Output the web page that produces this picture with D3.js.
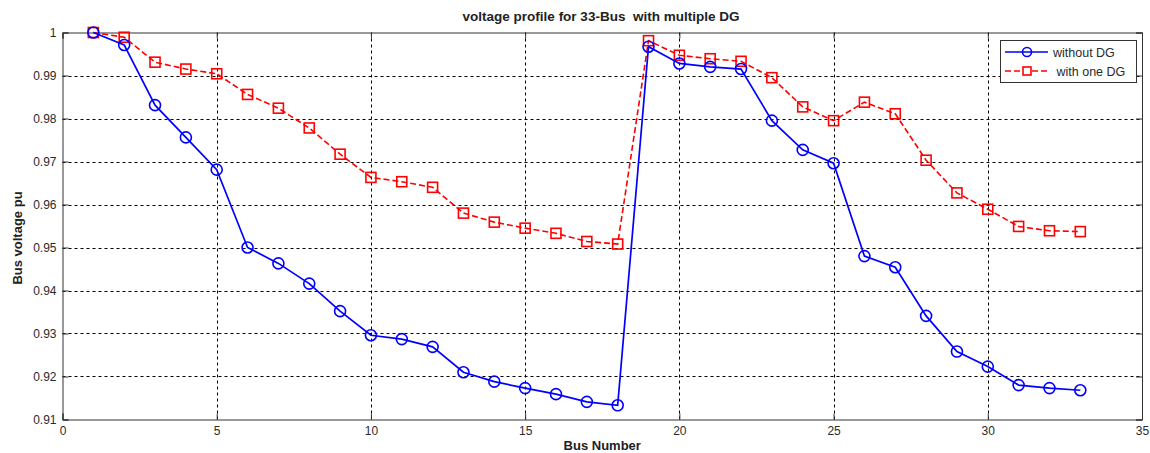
<!DOCTYPE html>
<html>
<head>
<meta charset="utf-8">
<script src="https://cdn.jsdelivr.net/npm/d3@7"></script>
<style>
  html, body { margin: 0; padding: 0; background: #fff; }
  svg { display: block; font-family: "Liberation Sans", Arial, Helvetica, sans-serif; }
</style>
</head>
<body>
<svg id="chart" width="1150" height="453"></svg>
<script>
// ---- data ----
const buses = d3.range(1, 34);
const withoutDG = [1.0000, 0.9971, 0.9831, 0.9756, 0.9681, 0.9500, 0.9463, 0.9416, 0.9352, 0.9296,
                   0.9287, 0.9269, 0.9210, 0.9188, 0.9173, 0.9159, 0.9141, 0.9133, 0.9967, 0.9928,
                   0.9920, 0.9915, 0.9795, 0.9727, 0.9696, 0.9480, 0.9454, 0.9341, 0.9258, 0.9223,
                   0.9180, 0.9173, 0.9168];
const withOneDG = [1.0000, 0.9989, 0.9931, 0.9915, 0.9904, 0.9856, 0.9824, 0.9778, 0.9717, 0.9663,
                   0.9653, 0.9640, 0.9580, 0.9559, 0.9545, 0.9533, 0.9514, 0.9508, 0.9981, 0.9947,
                   0.9939, 0.9933, 0.9895, 0.9827, 0.9795, 0.9838, 0.9811, 0.9703, 0.9627, 0.9589,
                   0.9549, 0.9539, 0.9537];
const xTicks = [0, 5, 10, 15, 20, 25, 30, 35];
const yTicks = [0.91, 0.92, 0.93, 0.94, 0.95, 0.96, 0.97, 0.98, 0.99, 1.00];
const yTickLabels = ["0.91", "0.92", "0.93", "0.94", "0.95", "0.96", "0.97", "0.98", "0.99", "1"];
const seriesNames = ["without DG", " with one DG"];
const titleText = "voltage profile for 33-Bus  with multiple DG";
const xLabel = "Bus Number";
const yLabel = "Bus voltage pu";

// ---- layout ----
const svg = d3.select("#chart");
const pLeft = 62.5, pRight = 1142, pTop = 32.5, pBottom = 419.5;
const x = d3.scaleLinear().domain([0, 35]).range([pLeft, pRight]);
const y = d3.scaleLinear().domain([0.91, 1.0]).range([pBottom, pTop]);

const axisColor = "#333";
const textColor = "#2a2a2a";

// grid
const grid = svg.append("g");
grid.selectAll("line.vx").data(xTicks.slice(1, -1)).join("line")
  .attr("x1", d => Math.round(x(d)) + 0.5).attr("x2", d => Math.round(x(d)) + 0.5)
  .attr("y1", pTop).attr("y2", pBottom)
  .attr("stroke", "#000").attr("stroke-width", 1).attr("stroke-dasharray", "3,3");
grid.selectAll("line.hy").data(yTicks.slice(1, -1)).join("line")
  .attr("y1", d => Math.round(y(d)) + 0.5).attr("y2", d => Math.round(y(d)) + 0.5)
  .attr("x1", pLeft).attr("x2", pRight)
  .attr("stroke", "#000").attr("stroke-width", 1).attr("stroke-dasharray", "3,3");

// axes
const xAxisB = d3.axisBottom(x).tickValues(xTicks).tickSize(-6).tickPadding(7).tickFormat(d3.format("d"));
const xAxisT = d3.axisTop(x).tickValues(xTicks).tickSize(-6).tickFormat("");
const yAxisL = d3.axisLeft(y).tickValues(yTicks).tickSize(-6).tickPadding(6).tickFormat((d, i) => yTickLabels[i]);
const yAxisR = d3.axisRight(y).tickValues(yTicks).tickSize(-6).tickFormat("");

function styleAxis(g) {
  g.select(".domain").attr("stroke", axisColor);
  g.selectAll(".tick line").attr("stroke", axisColor);
  g.selectAll(".tick text").attr("fill", textColor).style("font-size", "12px")
    .style("font-family", "'Liberation Sans', Arial, sans-serif");
}
svg.append("g").attr("transform", `translate(0,${pBottom})`).call(xAxisB).call(styleAxis);
svg.append("g").attr("transform", `translate(0,${pTop})`).call(xAxisT).call(styleAxis);
svg.append("g").attr("transform", `translate(${pLeft},0)`).call(yAxisL).call(styleAxis);
svg.append("g").attr("transform", `translate(${pRight},0)`).call(yAxisR).call(styleAxis);

// lines
const line = d3.line().x((d, i) => x(buses[i])).y(d => y(d));

svg.append("path").datum(withOneDG)
  .attr("d", line).attr("fill", "none")
  .attr("stroke", "#ff0000").attr("stroke-width", 1.6).attr("stroke-dasharray", "6,3");
svg.append("g").selectAll("rect").data(withOneDG).join("rect")
  .attr("x", (d, i) => x(buses[i]) - 5).attr("y", d => y(d) - 5)
  .attr("width", 10).attr("height", 10)
  .attr("fill", "none").attr("stroke", "#ff0000").attr("stroke-width", 1.6);

svg.append("path").datum(withoutDG)
  .attr("d", line).attr("fill", "none")
  .attr("stroke", "#0000ff").attr("stroke-width", 1.7);
svg.append("g").selectAll("circle").data(withoutDG).join("circle")
  .attr("cx", (d, i) => x(buses[i])).attr("cy", d => y(d)).attr("r", 5.5)
  .attr("fill", "none").attr("stroke", "#0000ff").attr("stroke-width", 1.6);

// title & labels
svg.append("text").attr("x", 601).attr("y", 21)
  .attr("text-anchor", "middle").attr("font-weight", "bold").attr("font-size", 13.5)
  .attr("fill", "#222").style("white-space", "pre").text(titleText);
svg.append("text").attr("x", (pLeft + pRight) / 2).attr("y", 450)
  .attr("text-anchor", "middle").attr("font-weight", "bold").attr("font-size", 13)
  .attr("fill", "#222").text(xLabel);
svg.append("text").attr("transform", `translate(22,238) rotate(-90)`)
  .attr("text-anchor", "middle").attr("font-weight", "bold").attr("font-size", 13)
  .attr("fill", "#222").text(yLabel);

// legend
const lg = svg.append("g");
lg.append("rect").attr("x", 1000.5).attr("y", 40.5).attr("width", 136).attr("height", 42)
  .attr("fill", "#fff").attr("stroke", "#333").attr("stroke-width", 1);
// entry 1
lg.append("line").attr("x1", 1005).attr("x2", 1048).attr("y1", 52).attr("y2", 52)
  .attr("stroke", "#0000ff").attr("stroke-width", 1.6);
lg.append("circle").attr("cx", 1027).attr("cy", 52).attr("r", 4.5)
  .attr("fill", "none").attr("stroke", "#0000ff").attr("stroke-width", 1.6);
lg.append("text").attr("x", 1053).attr("y", 56.5).attr("font-size", 12.5).attr("fill", textColor)
  .style("white-space", "pre").text(seriesNames[0]);
// entry 2
lg.append("line").attr("x1", 1005).attr("x2", 1048).attr("y1", 71).attr("y2", 71)
  .attr("stroke", "#ff0000").attr("stroke-width", 1.6).attr("stroke-dasharray", "6,3");
lg.append("rect").attr("x", 1023).attr("y", 67).attr("width", 8).attr("height", 8)
  .attr("fill", "#fff").attr("stroke", "#ff0000").attr("stroke-width", 1.6);
lg.append("text").attr("x", 1053).attr("y", 75.5).attr("font-size", 12.5).attr("fill", textColor)
  .style("white-space", "pre").text(seriesNames[1]);
</script>
</body>
</html>
